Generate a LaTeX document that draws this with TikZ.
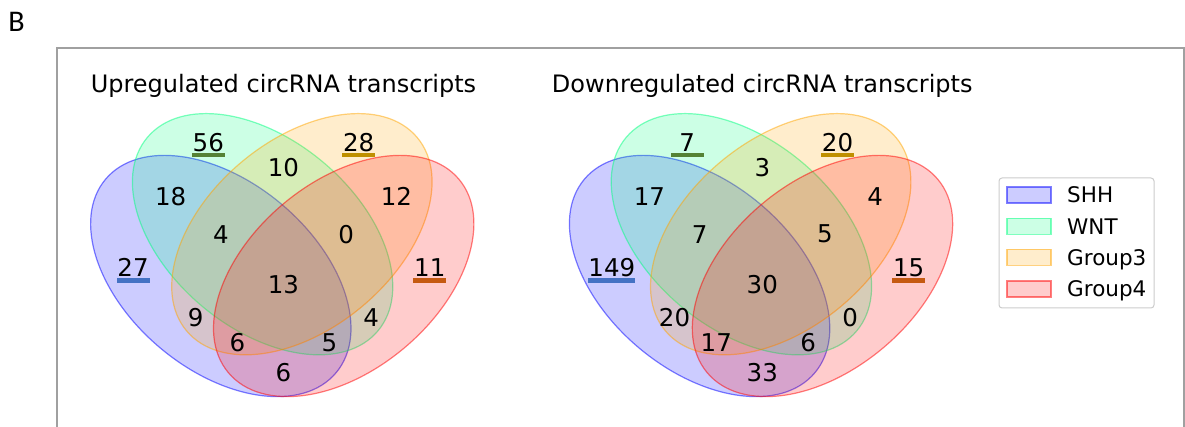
\documentclass[tikz,border=0pt]{standalone}
\usepackage{fontspec}
\setmainfont{DejaVu Sans}
\newfontfamily\carlitofont{Carlito}
\definecolor{cshh}{RGB}{0,0,255}
\definecolor{cwnt}{RGB}{0,255,127}
\definecolor{cgthree}{RGB}{255,165,0}
\definecolor{cgfour}{RGB}{255,0,0}
\definecolor{barblue}{HTML}{4472C4}
\definecolor{bargreen}{HTML}{548235}
\definecolor{bargold}{HTML}{BF9000}
\definecolor{barorange}{HTML}{C55A11}
\definecolor{framegray}{RGB}{160,160,160}
\begin{document}
\begin{tikzpicture}[x=1pt,y=1pt,
  setfill/.style={fill=#1, fill opacity=0.2, draw=#1, draw opacity=0.5, line width=1.2pt},
  legpatch/.style={fill=#1, fill opacity=0.2, draw=#1, draw opacity=0.5, line width=1.6pt},
  num/.style={inner sep=0pt, font=\fontsize{24.5}{28}\selectfont},
  ttl/.style={inner sep=0pt, anchor=base, font=\fontsize{24}{28}\selectfont},
  legtxt/.style={inner sep=0pt, anchor=base west, font=\fontsize{21.5}{25}\selectfont},
  frameline/.style={draw=framegray, line width=2.5pt},
  ulbar/.style={fill=#1, draw=none}
]
\useasboundingbox (0,0) rectangle (1185,427);
\clip (0,0) rectangle (1185,427);

% panel letter and frame
\node[inner sep=0pt, anchor=base, font=\carlitofont\fontsize{30}{34}\selectfont] (panelB) at (16.5,395) {B};
\draw[frameline] (57,-5) -- (57,379) -- (1184,379) -- (1184,-5);

% titles
\node[ttl] (Ltitle) at (283.5,334.7) {Upregulated circRNA transcripts};
\node[ttl] (Rtitle) at (762.3,334.7) {Downregulated circRNA transcripts};

% ---------------- left venn ----------------
\begin{scope}[shift={(74.5,-16.2)}, x=418pt, y=418pt]
  \path[setfill=cshh, shift={(0.350,0.400)}, rotate=140] (0,0) ellipse [x radius=0.36, y radius=0.225];
  \path[setfill=cwnt, shift={(0.450,0.500)}, rotate=140] (0,0) ellipse [x radius=0.36, y radius=0.225];
  \path[setfill=cgthree, shift={(0.544,0.500)}, rotate=40] (0,0) ellipse [x radius=0.36, y radius=0.225];
  \path[setfill=cgfour, shift={(0.644,0.400)}, rotate=40] (0,0) ellipse [x radius=0.36, y radius=0.225];
  \node[num] (La) at (0.14,0.42) {27};
  \node[num] (Lb) at (0.32,0.72) {56};
  \node[num] (Lc) at (0.68,0.72) {28};
  \node[num] (Ld) at (0.85,0.42) {11};
  \node[num] (Lab) at (0.23,0.59) {18};
  \node[num] (Lbc) at (0.50,0.66) {10};
  \node[num] (Lcd) at (0.77,0.59) {12};
  \node[num] (Labc) at (0.35,0.50) {4};
  \node[num] (Lbcd) at (0.65,0.50) {0};
  \node[num] (Labcd) at (0.50,0.38) {13};
  \node[num] (Lac) at (0.29,0.30) {9};
  \node[num] (Lbd) at (0.71,0.30) {4};
  \node[num] (Lacd) at (0.39,0.24) {6};
  \node[num] (Labd) at (0.61,0.24) {5};
  \node[num] (Lad) at (0.50,0.17) {6};
  \fill[ulbar=barblue] ([xshift=-16.5pt,yshift=-1.3pt]La.south) rectangle ([xshift=16.5pt,yshift=-5.8pt]La.south);
  \fill[ulbar=bargreen] ([xshift=-16.5pt,yshift=-1.3pt]Lb.south) rectangle ([xshift=16.5pt,yshift=-5.8pt]Lb.south);
  \fill[ulbar=bargold] ([xshift=-16.5pt,yshift=-1.3pt]Lc.south) rectangle ([xshift=16.5pt,yshift=-5.8pt]Lc.south);
  \fill[ulbar=barorange] ([xshift=-16.5pt,yshift=-1.3pt]Ld.south) rectangle ([xshift=16.5pt,yshift=-5.8pt]Ld.south);
\end{scope}

% ---------------- right venn ----------------
\begin{scope}[shift={(553.3,-16.2)}, x=418pt, y=418pt]
  \path[setfill=cshh, shift={(0.350,0.400)}, rotate=140] (0,0) ellipse [x radius=0.36, y radius=0.225];
  \path[setfill=cwnt, shift={(0.450,0.500)}, rotate=140] (0,0) ellipse [x radius=0.36, y radius=0.225];
  \path[setfill=cgthree, shift={(0.544,0.500)}, rotate=40] (0,0) ellipse [x radius=0.36, y radius=0.225];
  \path[setfill=cgfour, shift={(0.644,0.400)}, rotate=40] (0,0) ellipse [x radius=0.36, y radius=0.225];
  \node[num] (Ra) at (0.14,0.42) {149};
  \node[num] (Rb) at (0.32,0.72) {7};
  \node[num] (Rc) at (0.68,0.72) {20};
  \node[num] (Rd) at (0.85,0.42) {15};
  \node[num] (Rab) at (0.23,0.59) {17};
  \node[num] (Rbc) at (0.50,0.66) {3};
  \node[num] (Rcd) at (0.77,0.59) {4};
  \node[num] (Rabc) at (0.35,0.50) {7};
  \node[num] (Rbcd) at (0.65,0.50) {5};
  \node[num] (Rabcd) at (0.50,0.38) {30};
  \node[num] (Rac) at (0.29,0.30) {20};
  \node[num] (Rbd) at (0.71,0.30) {0};
  \node[num] (Racd) at (0.39,0.24) {17};
  \node[num] (Rabd) at (0.61,0.24) {6};
  \node[num] (Rad) at (0.50,0.17) {33};
  \fill[ulbar=barblue] ([xshift=-23.5pt,yshift=-1.3pt]Ra.south) rectangle ([xshift=23.5pt,yshift=-5.8pt]Ra.south);
  \fill[ulbar=bargreen] ([xshift=-16.5pt,yshift=-1.3pt]Rb.south) rectangle ([xshift=16.5pt,yshift=-5.8pt]Rb.south);
  \fill[ulbar=bargold] ([xshift=-16.5pt,yshift=-1.3pt]Rc.south) rectangle ([xshift=16.5pt,yshift=-5.8pt]Rc.south);
  \fill[ulbar=barorange] ([xshift=-16.5pt,yshift=-1.3pt]Rd.south) rectangle ([xshift=16.5pt,yshift=-5.8pt]Rd.south);
\end{scope}

% ---------------- legend ----------------
\node[draw=black!20, fill=white, fill opacity=0.8, rounded corners=3pt, line width=1pt,
      minimum width=155pt, minimum height=130pt, inner sep=0pt] (legend) at (1076.5,184) {};
\path[legpatch=cshh] (1007,224) rectangle (1051,240);
\path[legpatch=cwnt] (1007,192.5) rectangle (1051,208.5);
\path[legpatch=cgthree] (1007,161.5) rectangle (1051,177.5);
\path[legpatch=cgfour] (1007,130) rectangle (1051,146);
\node[legtxt] (lshh) at (1067,224.2) {SHH};
\node[legtxt] (lwnt) at (1067,192.7) {WNT};
\node[legtxt] (lg3) at (1067,161.7) {Group3};
\node[legtxt] (lg4) at (1067,130.2) {Group4};
\end{tikzpicture}
\end{document}
